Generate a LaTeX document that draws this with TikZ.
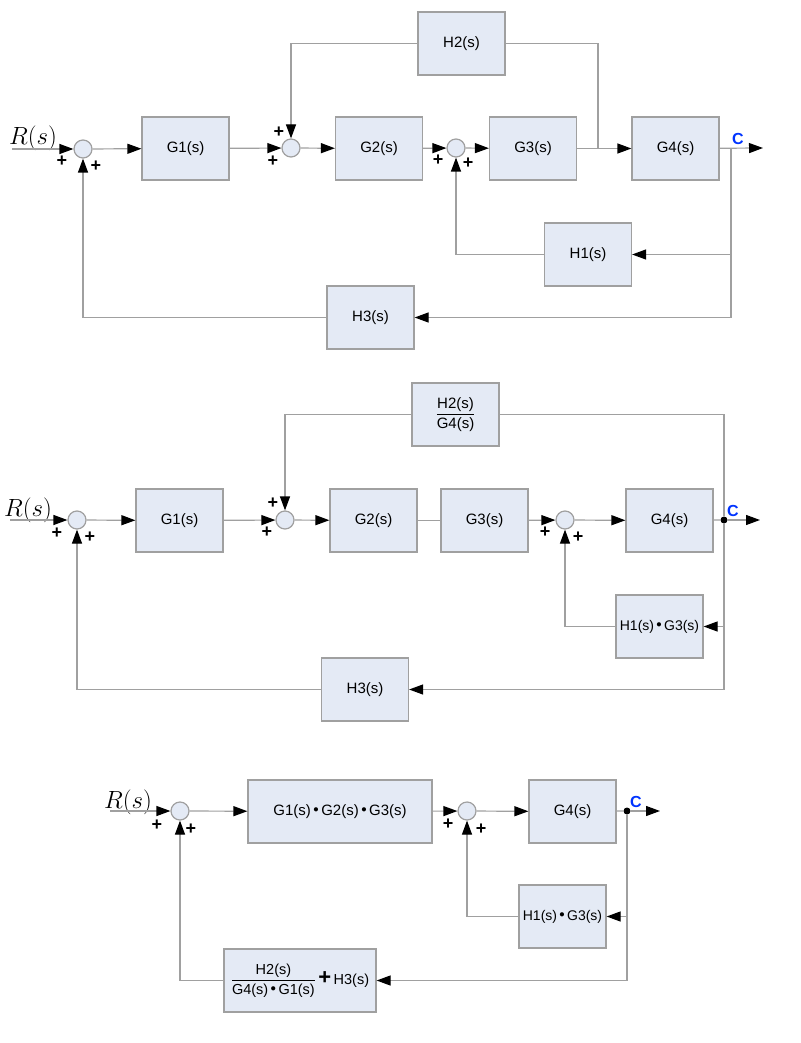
\documentclass[tikz,border=0pt]{standalone}
\usepackage{amsmath}
\usepackage{fontspec}
\setmainfont{Liberation Sans}
\usetikzlibrary{arrows.meta}
\definecolor{bfill}{HTML}{E4EAF5}
\definecolor{lgray}{HTML}{A0A0A0}
\newcommand{\mdot}{\,\raisebox{0.35ex}{\scalebox{0.75}{$\bullet$}}\,}
\begin{document}
\begin{tikzpicture}[x=1pt,y=-1pt,
 blk/.style={draw=lgray,fill=bfill,line width=1.2pt,minimum width=87pt,minimum height=63pt,inner sep=1pt,font=\fontsize{15}{16}\selectfont},
 sum/.style={circle,draw=lgray,fill=bfill,line width=1.2pt,minimum size=18pt,inner sep=0pt},
 ln/.style={draw=lgray,line width=1.2pt},
 ar/.style={ln,-{Triangle[length=14pt,width=10pt,fill=black,color=black]}},
 pl/.style={font=\bfseries\fontsize{18}{18}\selectfont,inner sep=0pt},
 rs/.style={font=\fontsize{23}{23}\selectfont,inner sep=0pt},
 cl/.style={font=\bfseries\fontsize{16}{16}\selectfont,text=blue!80!cyan,inner sep=0pt},
 dot/.style={circle,fill=black,inner sep=0pt,minimum size=7pt}]
\useasboundingbox (0,0) rectangle (800,1043);
% ===== Diagram 1 =====
\node[rs] (r1) at (33,138) {$R(s)$};
\coordinate (r1e) at (12,149);
\node[sum] (s11) at (83,149) {};
\node[blk] (g11) at (185.5,148.5) {G1(s)};
\node[sum] (s12) at (291,148) {};
\node[blk] (g12) at (379,148.5) {G2(s)};
\node[sum] (s13) at (456,148) {};
\node[blk] (g13) at (533,148.5) {G3(s)};
\node[blk] (g14) at (675.5,148.5) {G4(s)};
\node[blk] (h12) at (461.5,43.5) {H2(s)};
\node[blk] (h11) at (588,254.5) {H1(s)};
\node[blk] (h13) at (370.5,317.5) {H3(s)};
\node[cl] (c1) at (738,139) {C};
\coordinate (o1) at (763,148);
\coordinate (b1) at (731,148);
\coordinate (t1) at (598,148);
\draw[ar] (r1e) -- (s11);
\draw[ar] (s11) -- (g11);
\draw[ar] (g11) -- (s12);
\draw[ar] (s12) -- (g12);
\draw[ar] (g12) -- (s13);
\draw[ar] (s13) -- (g13);
\draw[ar] (g13) -- (g14);
\draw[ar] (g14) -- (o1);
\draw[ln] (t1) |- (h12.east);
\draw[ar] (h12.west) -| (s12.north);
\draw[ar] (b1) |- (h11.east);
\draw[ar] (h11.west) -| (s13.south);
\draw[ar] (b1) |- (h13.east);
\draw[ar] (h13.west) -| (s11.south);
\node[pl] at (62,161) {+}; \node[pl] at (96,166) {+};
\node[pl] at (279,132) {+}; \node[pl] at (273,161) {+};
\node[pl] at (438,160) {+}; \node[pl] at (468,163) {+};
% ===== Diagram 2 =====
\node[rs] (r2) at (28,510) {$R(s)$};
\coordinate (r2e) at (10,520);
\node[sum] (s21) at (77,520) {};
\node[blk] (g21) at (179.5,520.5) {G1(s)};
\node[sum] (s22) at (285,520) {};
\node[blk] (g22) at (373.5,520.5) {G2(s)};
\node[blk] (g23) at (484.5,520.5) {G3(s)};
\node[sum] (s23) at (565,520) {};
\node[blk] (g24) at (669.5,520.5) {G4(s)};
\node[blk] (h22) at (455.5,414.5) {$\displaystyle\frac{\text{H2(s)}}{\text{G4(s)}}$};
\node[blk,font=\fontsize{14}{15}\selectfont] (h21) at (659.5,626.5) {H1(s)\mdot G3(s)};
\node[blk] (h23) at (365,689.5) {H3(s)};
\node[dot] (d2) at (724,520) {};
\node[cl] (c2) at (733,511) {C};
\coordinate (o2) at (760,520);
\draw[ar] (r2e) -- (s21);
\draw[ar] (s21) -- (g21);
\draw[ar] (g21) -- (s22);
\draw[ar] (s22) -- (g22);
\draw[ln] (g22) -- (g23);
\draw[ar] (g23) -- (s23);
\draw[ar] (s23) -- (g24);
\draw[ln] (g24) -- (d2);
\draw[ar] (d2) -- (o2);
\draw[ln] (d2) |- (h22.east);
\draw[ar] (h22.west) -| (s22.north);
\draw[ar] (d2) |- (h21.east);
\draw[ar] (h21.west) -| (s23.south);
\draw[ar] (d2) |- (h23.east);
\draw[ar] (h23.west) -| (s21.south);
\node[pl] at (57,533) {+}; \node[pl] at (90,537) {+};
\node[pl] at (273,503) {+}; \node[pl] at (267,532) {+};
\node[pl] at (545,532) {+}; \node[pl] at (578,537) {+};
% ===== Diagram 3 =====
\node[rs] (r3) at (128,802) {$R(s)$};
\coordinate (r3e) at (110,811);
\node[sum] (s31) at (180,811) {};
\node[blk,minimum width=184pt] (g31) at (340,811.5) {G1(s)\mdot G2(s)\mdot G3(s)};
\node[sum] (s32) at (467,811) {};
\node[blk] (g34) at (572.5,811.5) {G4(s)};
\node[blk,font=\fontsize{14}{15}\selectfont] (h31) at (562.5,916.5) {H1(s)\mdot G3(s)};
\node[blk,minimum width=152pt,font=\fontsize{14.5}{15}\selectfont] (h33) at (300,980.5) {$\displaystyle\frac{\text{H2(s)}}{\text{G4(s)\mdot G1(s)}}$\,{\fontsize{22}{22}\selectfont\bfseries+}\,H3(s)};
\node[dot] (d3) at (627,811) {};
\node[cl] (c3) at (636,802) {C};
\coordinate (o3) at (660,811);
\draw[ar] (r3e) -- (s31);
\draw[ar] (s31) -- (g31);
\draw[ar] (g31) -- (s32);
\draw[ar] (s32) -- (g34);
\draw[ln] (g34) -- (d3);
\draw[ar] (d3) -- (o3);
\draw[ar] (d3) |- (h31.east);
\draw[ar] (h31.west) -| (s32.south);
\draw[ar] (d3) |- (h33.east);
\draw[ar] (h33.west) -| (s31.south);
\node[pl] at (157,825) {+}; \node[pl] at (191,829) {+};
\node[pl] at (448,824) {+}; \node[pl] at (481,829) {+};
\end{tikzpicture}
\end{document}
